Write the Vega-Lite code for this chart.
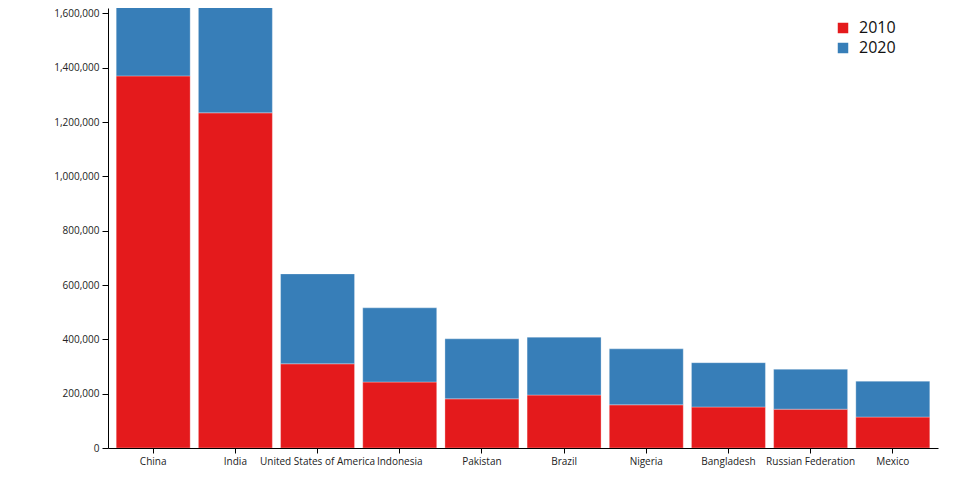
{
  "$schema": "https://vega.github.io/schema/vega-lite/v6.json",
  "width": 830,
  "height": 440,
  "autosize": {"type": "none"},
  "padding": {"left": 108, "top": 8, "right": 22, "bottom": 52},
  "config": {
    "font": "Open Sans",
    "view": {"stroke": null},
    "axis": {"grid": false, "domainColor": "#000", "tickColor": "#000", "labelColor": "#222", "labelFontSize": 10, "labelFont": "Open Sans"}
  },
  "data": {
    "values": [
      {"country": "China", "year": "2010", "pop": 1370000},
      {"country": "China", "year": "2020", "pop": 1411000},
      {"country": "India", "year": "2010", "pop": 1234000},
      {"country": "India", "year": "2020", "pop": 1380000},
      {"country": "United States of America", "year": "2010", "pop": 310000},
      {"country": "United States of America", "year": "2020", "pop": 331000},
      {"country": "Indonesia", "year": "2010", "pop": 243000},
      {"country": "Indonesia", "year": "2020", "pop": 273000},
      {"country": "Pakistan", "year": "2010", "pop": 181000},
      {"country": "Pakistan", "year": "2020", "pop": 221000},
      {"country": "Brazil", "year": "2010", "pop": 195000},
      {"country": "Brazil", "year": "2020", "pop": 213000},
      {"country": "Nigeria", "year": "2010", "pop": 159000},
      {"country": "Nigeria", "year": "2020", "pop": 206000},
      {"country": "Bangladesh", "year": "2010", "pop": 151000},
      {"country": "Bangladesh", "year": "2020", "pop": 163000},
      {"country": "Russian Federation", "year": "2010", "pop": 143000},
      {"country": "Russian Federation", "year": "2020", "pop": 147000},
      {"country": "Mexico", "year": "2010", "pop": 114000},
      {"country": "Mexico", "year": "2020", "pop": 132000}
    ]
  },
  "mark": {"type": "bar", "clip": true, "stroke": "white", "strokeWidth": 0.6, "strokeOpacity": 0.5},
  "encoding": {
    "x": {
      "field": "country", "type": "nominal", "sort": null, "title": null,
      "scale": {"paddingInner": 0.1, "paddingOuter": 0.1},
      "axis": {"labelAngle": 0, "labelPadding": 3, "tickSize": 5}
    },
    "y": {
      "field": "pop", "type": "quantitative", "aggregate": "sum", "stack": "zero", "title": null,
      "scale": {"domain": [0, 1620000], "nice": false},
      "axis": {"values": [0, 200000, 400000, 600000, 800000, 1000000, 1200000, 1400000, 1600000], "format": ",.0f", "tickSize": 6, "labelPadding": 3}
    },
    "color": {
      "field": "year", "type": "nominal",
      "scale": {"range": ["#e41a1c", "#377eb8"]},
      "legend": {"title": null, "orient": "none", "legendX": 727, "legendY": 12, "symbolType": "square", "symbolSize": 110, "symbolStrokeWidth": 0, "labelFontSize": 16, "labelColor": "#111", "rowPadding": 4, "labelOffset": 8}
    },
    "order": {"field": "year", "type": "nominal", "sort": "ascending"}
  }
}
